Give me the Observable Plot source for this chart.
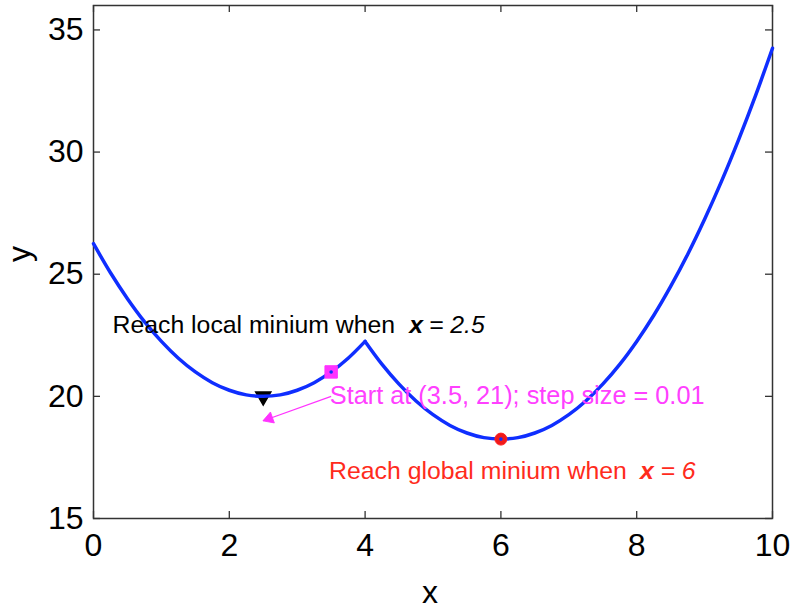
<!DOCTYPE html>
<html>
<head>
<meta charset="utf-8">
<script src="https://cdn.jsdelivr.net/npm/d3@7"></script>
<script src="https://cdn.jsdelivr.net/npm/@observablehq/plot@0.6"></script>
<style>
  html, body { margin: 0; padding: 0; background: #fff; }
  #chart svg { display: block; }
</style>
</head>
<body>
<div id="chart"></div>
<script>
// Curve values
const curveX = [0, 0.25, 0.5, 0.75, 1, 1.25, 1.5, 1.75, 2, 2.25, 2.5, 2.75, 3, 3.25, 3.5, 3.75, 4,
                4.25, 4.5, 4.75, 5, 5.25, 5.5, 5.75, 6, 6.25, 6.5, 6.75, 7, 7.25, 7.5, 7.75, 8,
                8.25, 8.5, 8.75, 9, 9.25, 9.5, 9.75, 10];
const curveY = [26.25, 25.06, 24.0, 23.06, 22.25, 21.56, 21.0, 20.56, 20.25, 20.06, 20.0, 20.06, 20.25, 20.56, 21.0, 21.56, 22.25,
                21.31, 20.5, 19.81, 19.25, 18.81, 18.5, 18.31, 18.25, 18.31, 18.5, 18.81, 19.25, 19.81, 20.5, 21.31, 22.25,
                23.31, 24.5, 25.81, 27.25, 28.81, 30.5, 32.31, 34.25];
const kinkX = 4;

// Markers
const localMin = {x: 2.5, y: 20};
const startPt = {x: 3.5, y: 21};
const globalMin = {x: 6, y: 18.25};

// Arrow
const arrowFrom = {x: 3.5, y: 20};
const arrowTo = {x: 2.5, y: 19};

// Annotations
const annText = ["Reach local minium when", "Start at (3.5, 21); step size = 0.01", "Reach global minium when"];
const annX = [0.28, 3.48, 3.47];
const annY = [22.9, 20.0, 16.95];
const annColor = ["#000000", "#ff40ff", "#ff2b1c"];
const annSize = [24.8, 25.3, 24.8];
const mathVar = ["x", "x"];
const mathVarX = [4.65, 8.05];
const mathVal = ["= 2.5", "= 6"];
const mathValX = [4.94, 8.35];
const mathY = [22.9, 16.95];
const mathColor = ["#000000", "#ff2b1c"];

// Ticks
const xTicks = [0, 2, 4, 6, 8, 10];
const yTicks = [15, 20, 25, 30, 35];

const W = 794, H = 609;
const mL = 93, mR = 22, mT = 5, mB = 91;
const fw = W - mL - mR, fh = H - mT - mB;
const tk = 7;

const rows = [];
curveX.forEach((x, i) => {
  if (x <= kinkX) rows.push({x, y: curveY[i], seg: "L"});
  if (x >= kinkX) rows.push({x, y: curveY[i], seg: "R"});
});
const ann = annText.map((t, i) => ({t, x: annX[i], y: annY[i], c: annColor[i], s: annSize[i]}));
const mv = mathVar.map((t, i) => ({t, x: mathVarX[i], y: mathY[i], c: mathColor[i]}));
const mval = mathVal.map((t, i) => ({t, x: mathValX[i], y: mathY[i], c: mathColor[i]}));

const font = "'Liberation Sans', Arial, Helvetica, sans-serif";
const blue = "#0f2eff";
const magenta = "#ff33ff";

const plot = Plot.plot({
  width: W, height: H,
  marginLeft: mL, marginRight: mR, marginTop: mT, marginBottom: mB,
  style: {fontFamily: font, background: "#fff", color: "#000"},
  x: {domain: [0, 10]},
  y: {domain: [15, 36]},
  marks: [
    Plot.axisX(xTicks, {tickSize: 0, tickPadding: 15, fontSize: 32, label: null}),
    Plot.axisY(yTicks, {tickSize: 0, tickPadding: 10, fontSize: 32, label: null}),
    Plot.tickX(xTicks, {x: d => d, insetTop: fh - tk, stroke: "#333", strokeWidth: 1.3}),
    Plot.tickX(xTicks, {x: d => d, insetBottom: fh - tk, stroke: "#333", strokeWidth: 1.3}),
    Plot.tickY(yTicks, {y: d => d, insetRight: fw - tk, stroke: "#333", strokeWidth: 1.3}),
    Plot.tickY(yTicks, {y: d => d, insetLeft: fw - tk, stroke: "#333", strokeWidth: 1.3}),
    Plot.frame({stroke: "#333", strokeWidth: 1.5}),
    Plot.text(["x"], {frameAnchor: "bottom", dy: 84, dx: -3, fontSize: 32, fill: "#000"}),
    Plot.text(["y"], {frameAnchor: "left", dx: -74, rotate: -90, fontSize: 32, fill: "#000"}),
    Plot.dot([localMin], {x: "x", y: "y", symbol: "triangle", rotate: 180, r: 5.6, fill: "#000", stroke: "#000"}),
    Plot.line(rows, {x: "x", y: "y", z: "seg", stroke: blue, strokeWidth: 3.5, curve: "catmull-rom"}),
    Plot.dot([startPt], {x: "x", y: "y", symbol: "square", r: 7, fill: magenta, stroke: magenta, strokeWidth: 1}),
    Plot.dot([globalMin], {x: "x", y: "y", symbol: "circle", r: 6, fill: "#f01a1a", stroke: "#ff2020", strokeWidth: 1}),
    Plot.dot([startPt, globalMin], {x: "x", y: "y", r: 1.8, fill: blue}),
    Plot.link([{x1: arrowFrom.x, y1: arrowFrom.y, x2: arrowTo.x, y2: arrowTo.y}],
      {x1: "x1", y1: "y1", x2: "x2", y2: "y2", stroke: magenta, strokeWidth: 1.2}),
    Plot.dot([arrowTo], {x: "x", y: "y", symbol: "triangle", r: 4.3, rotate: -109.6, dx: 6, dy: -2.2, fill: magenta, stroke: magenta, strokeWidth: 0.8}),
    Plot.text(ann, {x: "x", y: "y", text: "t", fill: "c", fontSize: "s", textAnchor: "start"}),
    Plot.text(mv, {x: "x", y: "y", text: "t", fill: "c", textAnchor: "start", fontSize: 24.8, fontStyle: "italic", fontWeight: "bold"}),
    Plot.text(mval, {x: "x", y: "y", text: "t", fill: "c", textAnchor: "start", fontSize: 24.8, fontStyle: "italic"})
  ]
});
document.getElementById("chart").appendChild(plot);
</script>
</body>
</html>
